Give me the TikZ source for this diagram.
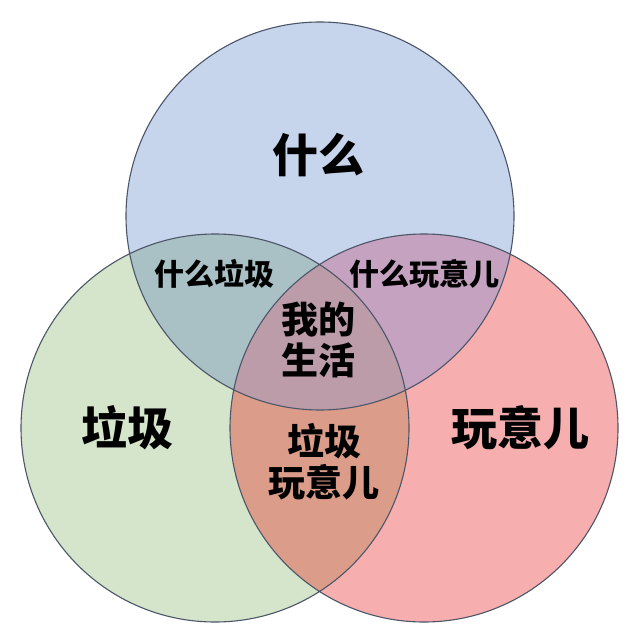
\documentclass[tikz,border=0pt]{standalone}
\usepackage{fontspec}
\newfontfamily\cjk{Noto Sans CJK SC}
\definecolor{topblue}{HTML}{C6D4EC}
\definecolor{leftgreen}{HTML}{D4E5CB}
\definecolor{rightpink}{HTML}{F7AEAE}
\definecolor{topleft}{HTML}{A9C0C4}
\definecolor{topright}{HTML}{C4A2C0}
\definecolor{leftright}{HTML}{DB9D89}
\definecolor{middle}{HTML}{BC9CA8}
\definecolor{rimgray}{HTML}{4C5668}

\begin{document}
\begin{tikzpicture}[x=1pt,y=-1pt,
	rim/.style={draw=rimgray,line width=1.1pt},
	big/.style={font=\cjk\bfseries\fontsize{46}{50}\selectfont},
	mid/.style={font=\cjk\bfseries\fontsize{37}{41}\selectfont,align=center},
	small/.style={font=\cjk\bfseries\fontsize{30}{34}\selectfont}]
	\useasboundingbox (0,0) rectangle (639,628);
	\coordinate (T) at (320,216);
	\coordinate (L) at (215,428);
	\coordinate (R) at (424,428);
	\fill[topblue] (T) circle (194pt);
	\fill[leftgreen] (L) circle (194pt);
	\fill[rightpink] (R) circle (194pt);
	\begin{scope}
		\clip (L) circle (194pt);
		\fill[leftright] (R) circle (194pt);
	\end{scope}
	\begin{scope}
		\clip (T) circle (194pt);
		\fill[topleft] (L) circle (194pt);
		\fill[topright] (R) circle (194pt);
		\clip (L) circle (194pt);
		\fill[middle] (R) circle (194pt);
	\end{scope}
	\draw[rim] (T) circle (194pt) (L) circle (194pt) (R) circle (194pt);
	\node[big] (what) at (318,155) {什么};
	\node[big] (trash) at (127,428) {垃圾};
	\node[big] (thing) at (520,428) {玩意儿};
	\node[small] (whattrash) at (214,274) {什么垃圾};
	\node[small] (whatthing) at (424,274) {什么玩意儿};
	\node[mid] (life) at (318,340) {我的\\生活};
	\node[mid] (trashthing) at (324,462) {垃圾\\玩意儿};
\end{tikzpicture}
\end{document}
